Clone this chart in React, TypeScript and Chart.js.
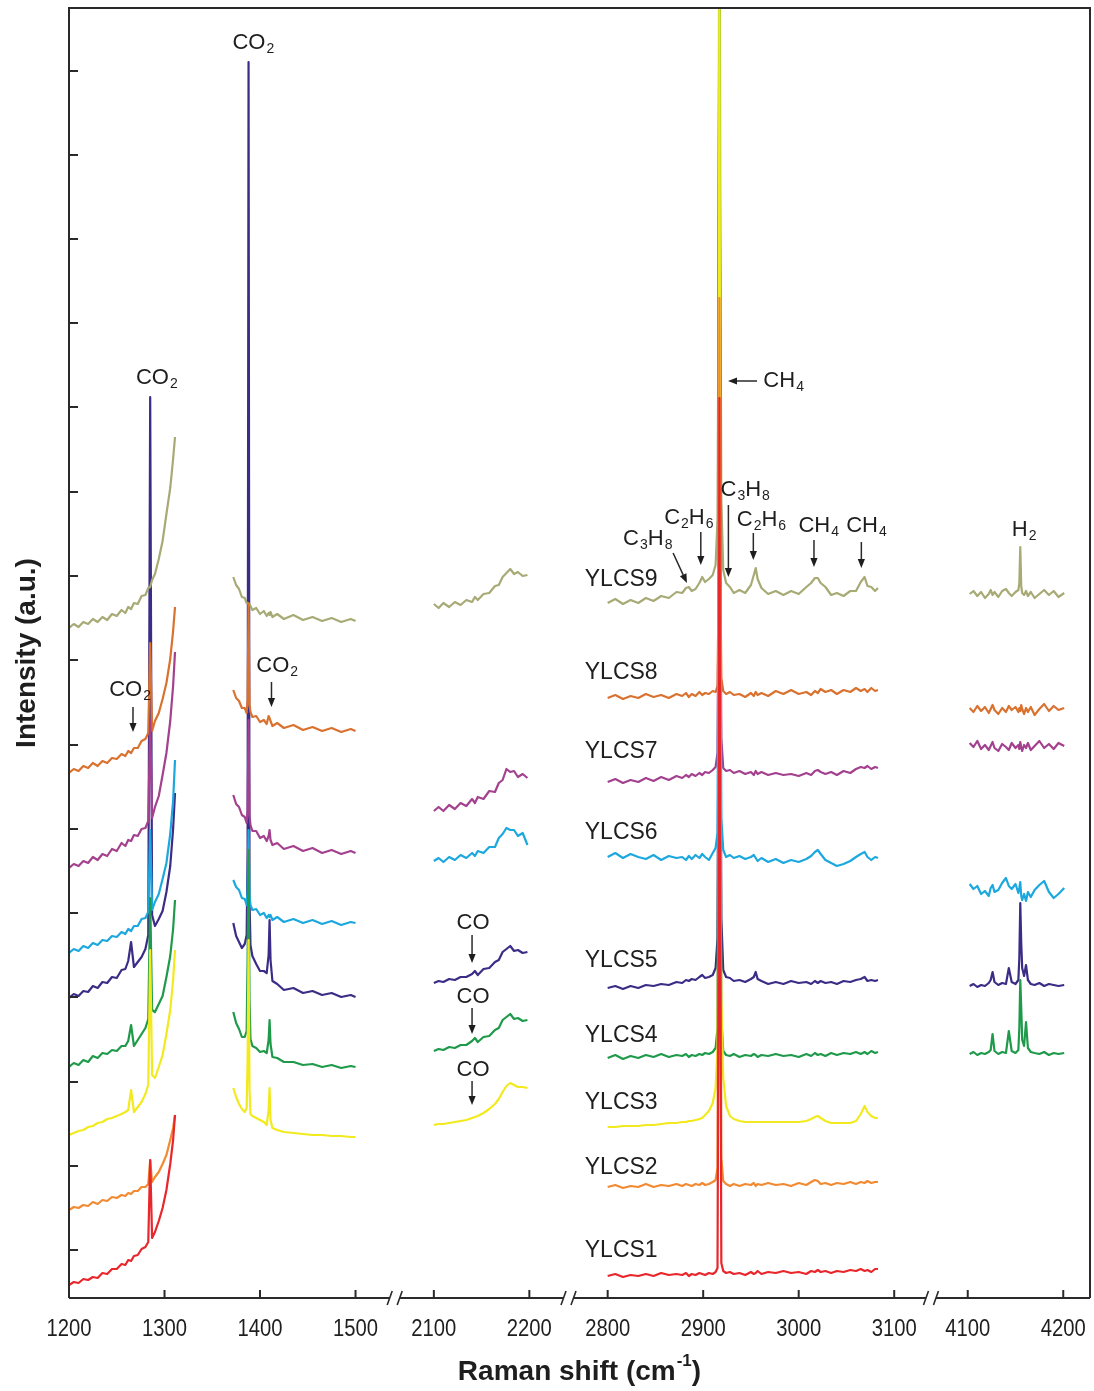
import React, { useEffect, useRef } from "react";
import { Chart, registerables } from "chart.js";

Chart.register(...registerables);

const FONT = '"Liberation Sans", Arial, Helvetica, sans-serif';

// ---------- x axis (broken Raman-shift axis) ----------
const X_TICKS = [1200, 1300, 1400, 1500, 2100, 2200, 2800, 2900, 3000, 3100, 4100, 4200];
const Y_TICKS = [48, 132, 216, 301, 385, 469, 553, 638, 722, 806, 891, 975, 1059, 1143, 1227];
const BREAK_PAIRS = [[1500, 2100], [2200, 2800], [3100, 4100]];

function axisPos(shift: number): number {
  if (shift < 1800) return shift - 1200;
  if (shift < 2500) return 382 + shift - 2100;
  if (shift < 3600) return 564 + shift - 2800;
  return 941 + shift - 4100;
}

// ---------- shared Raman-shift grids (cm-1) ----------
const G_AL = [1200,1205,1210,1215,1220,1225,1230,1235,1240,1245,1250,1255,1259,1262,1265,1268,1272,1276,1280,1283,1285,1287,1290,1294,1298,1302,1306,1309,1311];
const G_AR = [1372,1375,1378,1381,1384,1386,1387,1388,1389,1390,1392,1396,1400,1404,1407,1409,1410,1411,1413,1418,1425,1435,1445,1455,1465,1475,1485,1495,1500];
const G_B = [2100,2105,2110,2116,2122,2128,2134,2140,2143,2146,2152,2158,2164,2168,2172,2176,2180,2184,2188,2193,2198];
const G_C = [2800,2808,2816,2824,2832,2840,2848,2856,2864,2872,2878,2882,2885,2888,2892,2896,2899,2902,2906,2910,2913,2915,2916,2917,2918,2919,2921,2924,2928,2932,2938,2944,2950,2953,2955,2957,2961,2968,2976,2984,2992,3000,3008,3013,3017,3020,3023,3028,3034,3040,3047,3054,3060,3065,3069,3072,3076,3080,3083];
const G_D = [4102,4106,4110,4114,4118,4122,4124,4126,4128,4132,4136,4140,4143,4146,4150,4153,4154,4155,4156,4157,4159,4161,4163,4166,4170,4175,4180,4185,4190,4195,4201];

// ---------- intensities (a.u., offset-stacked) ----------
// YLCS9
const ylcs9AL = [670,674,671,676,674,679,676,681,678,684,682,688,685,691,689,695,694,702,703,710,711,718,724,739,757,784,810,839,861];
const ylcs9AR = [721,713,709,701,700,695,695,694,694,692,688,690,684,687,682,685,683,686,681,684,679,683,678,681,677,680,676,679,677];
const ylcs9B = [694,690,695,691,696,693,698,696,701,698,704,705,712,713,721,725,729,724,726,722,723];
const ylcs9C = [695,699,694,698,695,700,697,702,700,706,705,710,711,707,709,715,721,716,719,723,733,778,998,1500,1048,798,728,715,711,705,708,705,713,723,730,719,710,704,707,703,707,704,711,715,720,720,715,711,703,705,702,707,707,716,721,712,711,707,710];
const ylcs9D = [704,707,702,706,700,704,708,703,706,701,707,709,705,702,706,708,715,751,712,705,703,707,702,706,700,704,708,703,707,701,705];
// YLCS8
const ylcs8AL = [525,529,527,532,530,535,532,537,535,540,539,544,542,547,545,550,550,557,559,565,655,567,577,585,599,615,639,667,691];
const ylcs8AR = [608,600,597,590,590,585,598,695,593,586,581,582,576,578,574,582,580,577,572,575,570,573,568,571,567,570,566,569,567];
const ylcs8C = [600,603,599,602,600,604,601,603,600,604,602,605,601,604,602,606,603,605,604,607,606,612,700,1500,720,620,607,604,606,603,604,601,605,602,606,603,605,602,607,604,608,604,606,603,607,605,609,606,608,604,608,606,610,607,609,606,610,607,608];
const ylcs8D = [590,586,592,587,591,585,589,593,588,584,590,586,592,588,591,586,590,587,593,589,584,590,586,591,583,589,594,587,592,588,590];
// YLCS7
const ylcs7AL = [430,434,432,437,435,441,438,444,442,449,447,455,452,458,457,463,462,469,470,477,578,480,491,502,523,545,577,612,646];
const ylcs7AR = [503,494,491,483,481,475,488,578,483,473,467,467,460,462,457,462,468,458,453,455,449,452,447,450,445,448,444,447,445];
const ylcs7B = [487,491,487,493,489,495,492,499,495,501,499,507,506,515,518,529,526,527,521,524,520];
const ylcs7C = [516,519,515,518,516,520,517,521,518,522,520,523,521,524,522,525,523,526,525,528,531,545,700,1500,720,560,530,527,528,525,527,524,526,523,527,524,526,523,525,523,524,522,525,523,527,528,526,524,526,523,527,525,529,531,530,532,529,531,530];
const ylcs7D = [555,551,557,549,553,548,552,556,550,547,554,551,548,555,550,553,549,556,551,547,553,550,555,548,552,557,550,554,549,555,552];
// YLCS6
const ylcs6AL = [345,349,347,352,350,355,353,358,357,362,361,366,364,369,367,372,372,379,380,386,468,388,396,404,419,435,464,497,538];
const ylcs6AR = [418,411,408,400,399,393,408,468,403,393,388,389,383,385,380,383,381,383,378,381,376,379,375,378,374,377,373,376,375];
const ylcs6B = [437,440,436,441,438,443,440,445,442,447,445,451,451,460,464,470,468,468,462,465,453];
const ylcs6C = [441,445,440,444,441,439,443,438,442,440,441,438,442,439,443,440,444,441,438,445,450,465,700,1500,720,480,448,441,443,440,442,439,441,443,440,437,440,436,439,435,438,436,439,442,446,448,444,438,435,432,434,437,441,444,446,441,438,441,440];
const ylcs6D = [414,409,412,404,407,402,410,413,406,408,415,420,412,409,414,405,410,416,402,398,404,397,406,401,408,413,417,406,400,404,410];
// YLCS5
const ylcs5AL = [300,304,302,307,306,312,310,316,315,321,320,328,329,337,356,331,336,341,349,363,901,383,372,379,387,406,432,469,505];
const ylcs5AR = [375,362,356,350,354,363,448,1236,398,353,342,334,327,327,325,343,378,338,317,314,308,310,305,307,303,305,301,303,301];
const ylcs5B = [315,317,316,319,318,321,321,324,327,323,329,330,336,338,346,349,352,347,348,345,346];
const ylcs5C = [310,312,309,312,310,313,312,314,313,316,315,318,317,319,318,321,323,320,321,323,330,360,600,1500,650,380,328,321,320,317,318,316,319,321,326,319,317,314,316,314,317,315,316,314,317,315,317,315,316,314,317,316,318,319,321,317,318,317,318];
const ylcs5D = [312,314,311,313,312,315,318,326,316,313,315,314,330,316,314,318,340,395,355,330,322,333,318,314,313,315,312,314,313,312,313];
// YLCS4
const ylcs4AL = [231,235,233,238,236,242,240,245,244,248,247,252,252,257,273,252,258,264,270,279,400,288,286,294,302,321,342,369,398];
const ylcs4AR = [286,275,269,261,261,267,338,448,298,259,252,250,246,247,245,258,278,254,241,240,236,236,233,234,231,233,230,232,231];
const ylcs4B = [247,249,248,251,250,253,253,257,260,256,261,262,268,270,278,281,284,279,280,277,278];
const ylcs4C = [240,243,239,242,240,243,241,244,241,243,242,244,241,243,242,244,243,245,244,246,250,270,600,1500,620,280,247,243,242,244,241,243,242,244,243,241,243,242,244,242,243,241,244,242,245,243,244,242,245,243,245,244,246,244,246,244,247,245,246];
const ylcs4D = [244,246,243,245,244,246,248,264,247,244,246,245,267,247,245,248,270,318,290,258,252,276,250,246,245,244,246,243,245,244,245];
// YLCS3
const ylcs3AL = [163,165,167,168,171,172,175,176,179,180,182,184,186,188,208,186,191,196,204,213,348,223,220,231,243,264,288,318,348];
const ylcs3AR = [210,201,194,189,186,190,238,358,208,184,182,180,178,176,173,188,210,178,170,168,166,165,164,163,163,162,162,161,161];
const ylcs3B = [173,174,174,175,176,177,178,180,181,182,185,189,194,199,206,212,215,213,211,211,210];
const ylcs3C = [171,171,172,172,172,173,173,174,175,175,176,176,177,177,178,179,180,183,187,195,210,250,400,1500,420,300,220,192,182,179,177,176,176,176,176,176,176,176,176,176,176,176,177,179,181,182,180,177,175,175,175,175,177,184,192,186,182,180,180];
// YLCS2
const ylcs2AL = [88,91,90,93,92,96,94,98,97,101,100,103,102,105,104,107,107,111,111,114,138,116,121,126,134,143,158,170,183];
const ylcs2C = [111,113,110,112,111,114,111,113,112,114,112,114,113,112,114,113,115,113,114,116,118,130,500,1000,520,140,117,114,112,114,112,114,113,115,112,114,113,115,113,114,112,115,113,116,118,117,114,115,113,115,114,116,114,116,115,117,115,116,116];
// YLCS1
const ylcs1AL = [13,16,15,19,18,21,20,25,24,29,29,34,33,38,37,42,43,49,51,56,138,60,66,77,90,108,134,158,183];
const ylcs1C = [22,24,21,23,22,24,22,25,23,24,23,25,22,24,23,25,24,23,25,24,26,30,300,900,320,35,27,25,26,24,25,23,26,24,25,27,24,26,25,27,25,26,24,27,26,28,26,27,25,27,26,28,27,29,27,28,26,29,29];

type Seg = [number[], number[]];
const SPECTRA: { name: string; color: string; order: number; segs: Seg[] }[] = [
  { name: "YLCS1", color: "#e8262b", order: 1, segs: [[G_AL, ylcs1AL], [G_C, ylcs1C]] },
  { name: "YLCS2", color: "#f28a32", order: 2, segs: [[G_AL, ylcs2AL], [G_C, ylcs2C]] },
  { name: "YLCS3", color: "#f2ea1e", order: 3, segs: [[G_AL, ylcs3AL], [G_AR, ylcs3AR], [G_B, ylcs3B], [G_C, ylcs3C]] },
  { name: "YLCS4", color: "#1f9a4b", order: 4, segs: [[G_AL, ylcs4AL], [G_AR, ylcs4AR], [G_B, ylcs4B], [G_C, ylcs4C], [G_D, ylcs4D]] },
  { name: "YLCS5", color: "#3b2c86", order: 10, segs: [[G_AL, ylcs5AL], [G_AR, ylcs5AR], [G_B, ylcs5B], [G_C, ylcs5C], [G_D, ylcs5D]] },
  { name: "YLCS6", color: "#1ca8de", order: 6, segs: [[G_AL, ylcs6AL], [G_AR, ylcs6AR], [G_B, ylcs6B], [G_C, ylcs6C], [G_D, ylcs6D]] },
  { name: "YLCS7", color: "#a3418f", order: 7, segs: [[G_AL, ylcs7AL], [G_AR, ylcs7AR], [G_B, ylcs7B], [G_C, ylcs7C], [G_D, ylcs7D]] },
  { name: "YLCS8", color: "#d9712f", order: 8, segs: [[G_AL, ylcs8AL], [G_AR, ylcs8AR], [G_C, ylcs8C], [G_D, ylcs8D]] },
  { name: "YLCS9", color: "#a7aa74", order: 9, segs: [[G_AL, ylcs9AL], [G_AR, ylcs9AR], [G_B, ylcs9B], [G_C, ylcs9C], [G_D, ylcs9D]] },
];

// ---------- annotations (Raman shift, intensity) ----------
type Part = [string, ("sub" | "sup")?];
const CO2: Part[] = [["CO"], ["2", "sub"]];
const CO: Part[] = [["CO"]];
const CH4: Part[] = [["CH"], ["4", "sub"]];
const C3H8: Part[] = [["C"], ["3", "sub"], ["H"], ["8", "sub"]];
const C2H6: Part[] = [["C"], ["2", "sub"], ["H"], ["6", "sub"]];
const H2: Part[] = [["H"], ["2", "sub"]];

const LABELS: { at: [number, number]; parts: Part[]; align?: "left" | "center" }[] = [
  { at: [1393, 1255], parts: CO2 },
  { at: [1292, 920], parts: CO2 },
  { at: [1264, 608], parts: CO2 },
  { at: [1418, 632], parts: CO2 },
  { at: [2141, 375], parts: CO },
  { at: [2141, 301], parts: CO },
  { at: [2141, 228], parts: CO },
  { at: [2842, 759], parts: C3H8 },
  { at: [2885, 780], parts: C2H6 },
  { at: [2944, 808], parts: C3H8 },
  { at: [2961, 778], parts: C2H6 },
  { at: [3021, 772], parts: CH4 },
  { at: [3071, 772], parts: CH4 },
  { at: [2963, 917], parts: CH4, align: "left" },
  { at: [4159, 768], parts: H2 },
];

const SAMPLE_LABELS: [string, number][] = [
  ["YLCS9", 718], ["YLCS8", 625], ["YLCS7", 546], ["YLCS6", 465], ["YLCS5", 337],
  ["YLCS4", 262], ["YLCS3", 195], ["YLCS2", 130], ["YLCS1", 47],
];
const SAMPLE_LABEL_SHIFT = 2776;

const ARROWS: [[number, number], [number, number]][] = [
  [[1267, 591], [1267, 566]],
  [[1412, 616], [1412, 591]],
  [[2140, 363], [2140, 335]],
  [[2140, 290], [2140, 264]],
  [[2140, 217], [2140, 193]],
  [[2868.5, 745], [2883, 715]],
  [[2897.5, 766], [2897.5, 733]],
  [[2926.4, 793], [2926.4, 721]],
  [[2952.5, 765], [2952.5, 738]],
  [[3016, 758], [3016, 731]],
  [[3065.6, 756], [3065.6, 730]],
  [[2956.4, 917], [2926, 917]],
];

function toPoints(segs: Seg[]) {
  const pts: { x: number; y: number | null }[] = [];
  segs.forEach(([grid, vals], k) => {
    if (k > 0) pts.push({ x: axisPos(grid[0]) - 0.5, y: null });
    grid.forEach((s, i) => pts.push({ x: axisPos(s), y: vals[i] }));
  });
  return pts;
}

function drawRich(ctx: CanvasRenderingContext2D, x: number, y: number, parts: Part[], size: number, align: string, weight = "", sx = 1) {
  const main = `${weight} ${size}px ${FONT}`;
  const small = `${weight} ${Math.round(size * 0.62)}px ${FONT}`;
  let total = 0;
  const widths: number[] = [];
  for (const [t, k] of parts) {
    ctx.font = k ? small : main;
    const w = ctx.measureText(t).width + (k ? 1 : 0);
    widths.push(w);
    total += w;
  }
  ctx.save();
  ctx.translate(x, y);
  ctx.scale(sx, 1);
  let cx = align === "center" ? -total / 2 : align === "right" ? -total : 0;
  ctx.textAlign = "left";
  ctx.textBaseline = "middle";
  parts.forEach(([t, k], i) => {
    ctx.font = k ? small : main;
    const dy = k === "sub" ? size * 0.3 : k === "sup" ? -size * 0.38 : 0;
    ctx.fillText(t, cx + (k ? 1 : 0), dy);
    cx += widths[i];
  });
  ctx.restore();
}

function drawArrow(ctx: CanvasRenderingContext2D, x1: number, y1: number, x2: number, y2: number) {
  const ang = Math.atan2(y2 - y1, x2 - x1);
  const L = 9, W = 3.6;
  const bx = x2 - L * Math.cos(ang), by = y2 - L * Math.sin(ang);
  ctx.beginPath();
  ctx.moveTo(x1, y1);
  ctx.lineTo(bx, by);
  ctx.stroke();
  ctx.beginPath();
  ctx.moveTo(x2, y2);
  ctx.lineTo(bx + W * Math.sin(ang), by - W * Math.cos(ang));
  ctx.lineTo(bx - W * Math.sin(ang), by + W * Math.cos(ang));
  ctx.closePath();
  ctx.fill();
}

const decor = {
  id: "decor",
  afterDraw(chart: any) {
    const { ctx, chartArea: a, scales } = chart;
    const xs = scales.x, ys = scales.y;
    const X = (s: number) => xs.getPixelForValue(axisPos(s));
    const Y = (v: number) => ys.getPixelForValue(v);
    ctx.save();
    ctx.strokeStyle = "#2a2a2a";
    ctx.fillStyle = "#1e1e1e";
    ctx.lineWidth = 2;
    // frame
    ctx.beginPath();
    ctx.moveTo(a.left, a.bottom);
    ctx.lineTo(a.left, a.top);
    ctx.lineTo(a.right, a.top);
    ctx.lineTo(a.right, a.bottom);
    ctx.stroke();
    const breaks = BREAK_PAIRS.map(([p, q]) => xs.getPixelForValue((axisPos(p) + axisPos(q)) / 2));
    ctx.beginPath();
    let start = a.left;
    for (const b of breaks) {
      ctx.moveTo(start, a.bottom);
      ctx.lineTo(b - 5, a.bottom);
      start = b + 5;
    }
    ctx.moveTo(start, a.bottom);
    ctx.lineTo(a.right, a.bottom);
    ctx.stroke();
    ctx.lineWidth = 1.6;
    for (const b of breaks) {
      for (const dx of [-5, 5]) {
        ctx.beginPath();
        ctx.moveTo(b + dx - 2.5, a.bottom + 7);
        ctx.lineTo(b + dx + 2.5, a.bottom - 7);
        ctx.stroke();
      }
    }
    // inner ticks + tick labels (Arial-Narrow-like: horizontally condensed)
    ctx.lineWidth = 2;
    for (const t of X_TICKS) {
      const px = X(t);
      ctx.beginPath();
      ctx.moveTo(px, a.bottom);
      ctx.lineTo(px, a.bottom - 8);
      ctx.stroke();
      drawRich(ctx, px, a.bottom + 32, [[String(t)]], 23, "center", "", 0.88);
    }
    for (const v of Y_TICKS) {
      const py = Y(v);
      ctx.beginPath();
      ctx.moveTo(a.left, py);
      ctx.lineTo(a.left + 9, py);
      ctx.stroke();
    }
    // arrows
    ctx.lineWidth = 1.5;
    for (const [[s1, v1], [s2, v2]] of ARROWS) drawArrow(ctx, X(s1), Y(v1), X(s2), Y(v2));
    // labels
    for (const l of LABELS) drawRich(ctx, X(l.at[0]), Y(l.at[1]), l.parts, 22, l.align || "center");
    for (const [name, v] of SAMPLE_LABELS) drawRich(ctx, X(SAMPLE_LABEL_SHIFT), Y(v), [[name]], 23, "left");
    // x title with superscript
    drawRich(ctx, (a.left + a.right) / 2, 1372, [["Raman shift (cm"], ["-1", "sup"], [")"]], 28, "center", "bold");
    ctx.restore();
  },
};

export default function App() {
  const ref = useRef<HTMLCanvasElement | null>(null);
  useEffect(() => {
    if (!ref.current) return;
    const chart = new Chart(ref.current, {
      type: "line",
      data: {
        datasets: SPECTRA.map((s) => ({
          label: s.name,
          data: toPoints(s.segs),
          borderColor: s.color,
          backgroundColor: s.color,
          borderWidth: 2.2,
          borderJoinStyle: "round",
          pointRadius: 0,
          tension: 0,
          fill: false,
          spanGaps: false,
          order: s.order,
        })),
      },
      options: {
        animation: false,
        responsive: false,
        maintainAspectRatio: false,
        devicePixelRatio: 1,
        layout: { padding: { left: 8, right: 4, top: 8, bottom: 0 } },
        plugins: { legend: { display: false }, tooltip: { enabled: false } },
        scales: {
          x: {
            type: "linear",
            min: 0,
            max: 1069,
            afterBuildTicks: (sc: any) => {
              sc.ticks = X_TICKS.map((t) => ({ value: axisPos(t) }));
            },
            afterFit: (sc: any) => {
              sc.height = 93;
              sc.paddingLeft = 0;
              sc.paddingRight = 0;
            },
            ticks: { display: false },
            grid: { display: false, drawTicks: false },
            border: { display: false },
          },
          y: {
            type: "linear",
            min: 0,
            max: 1290,
            afterBuildTicks: (sc: any) => {
              sc.ticks = Y_TICKS.map((v) => ({ value: v }));
            },
            afterFit: (sc: any) => {
              sc.width = 61;
              sc.paddingTop = 0;
              sc.paddingBottom = 0;
            },
            ticks: { display: false },
            grid: { display: false, drawTicks: false },
            border: { display: false },
            title: {
              display: true,
              text: "Intensity (a.u.)",
              color: "#1e1e1e",
              font: { family: FONT, size: 28, weight: "bold" },
              padding: { top: 2, bottom: 0 },
            },
          },
        },
      },
      plugins: [decor],
    } as any);
    return () => chart.destroy();
  }, []);
  return (
    <div style={{ position: "absolute", left: 0, top: 0, width: 1094, height: 1391, background: "#fff" }}>
      <canvas ref={ref} width={1094} height={1391} style={{ width: 1094, height: 1391, display: "block" }} />
    </div>
  );
}
